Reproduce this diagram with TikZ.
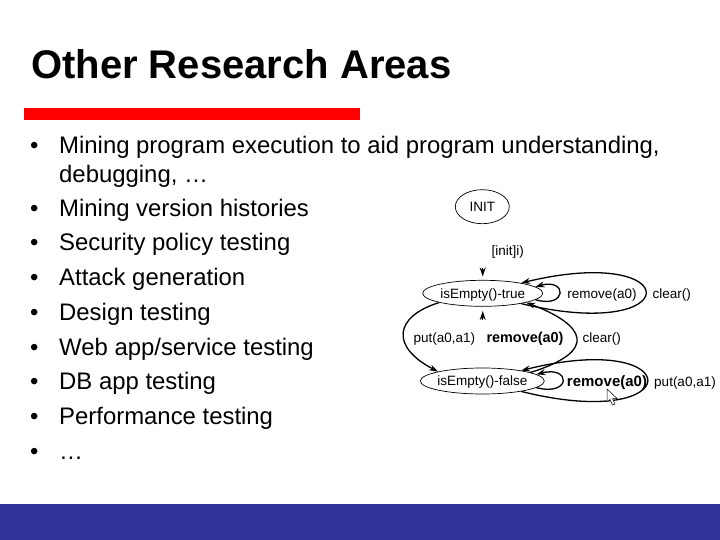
\documentclass[tikz,border=0pt]{standalone}
\usepackage{fontspec}
\setmainfont{Liberation Sans}
\usetikzlibrary{shapes.geometric, arrows.meta}
\newcommand{\statetext}[1]{\raisebox{-4.7pt}[0pt][0pt]{\makebox[0pt]{#1}}}
\definecolor{footerblue}{RGB}{51,51,153}

\begin{document}
\begin{tikzpicture}[x=1pt, y=-1pt,
every node/.style = {inner sep=0pt},
state/.style = {shape=ellipse, draw, line width=0.7pt, font=\fontsize{13.5}{13.5}\selectfont},
call/.style = {font=\fontsize{13.5}{13.5}\selectfont},
boldcall/.style = {font=\fontsize{14.4}{14.4}\selectfont\bfseries},
bullet/.style = {anchor=base west, font=\fontsize{23.9}{23.9}\selectfont},
trans/.style = {line width=1.3pt, -{Stealth[length=9pt,width=6pt]}}]
\useasboundingbox (0,0) rectangle (720,540);
\fill [footerblue] (0,504) rectangle (720,540);
\fill [red] (24,108) rectangle (360,120);
\node [anchor=base west, font=\fontsize{40}{40}\selectfont\bfseries] (title) at (31,79) {Other Research Areas};
\foreach \ypos/\itemtext in {154/{Mining program execution to aid program understanding,},
    216/{Mining version histories}, 251/{Security policy testing}, 285/{Attack generation},
    320/{Design testing}, 355/{Web app/service testing}, 389/{DB app testing},
    424/{Performance testing}, 459/{…}}
{
    \node [bullet] (dot\ypos) at (30,\ypos) {•};
    \node [bullet] (item\ypos) at (59,\ypos) {\itemtext};
}
\node [bullet] (item183) at (59,183) {debugging, …};

\node [state, minimum width=54pt, minimum height=34pt] (init) at (482.3,206.7) {\statetext{INIT}};
\node [state, minimum width=120pt, minimum height=26pt] (isTrue) at (482.7,293.3) {\statetext{isEmpty()-true}};
\node [state, minimum width=124pt, minimum height=26pt] (isFalse) at (482.3,381) {\statetext{isEmpty()-false}};

\node [call] (initCall) at (507.7,252) {[init]i)};
\node [call] (removeTrue) at (602,295.5) {remove(a0)};
\node [call] (clearTrue) at (671.7,295.5) {clear()};
\node [call] (putFalse) at (444.3,339) {put(a0,a1)};
\node [boldcall] (removeMid) at (525,339) {remove(a0)};
\node [call] (clearMid) at (601.7,339) {clear()};
\node [boldcall, font=\fontsize{15}{15}\selectfont\bfseries] (removeFalse) at (607,382.5) {remove(a0)};
\node [call] (putLoop) at (685,383) {put(a0,a1)};

\coordinate (initEnd) at (482.7,267.5);
\coordinate (midEnd) at (482.7,320);
\draw [trans, shorten >=3.5pt] (initEnd) -- (isTrue);
\draw [trans, shorten >=4.4pt] (midEnd) -- (isTrue);
\draw [trans] (isTrue.-7) .. controls +(32,9) and +(32,-9) .. (isTrue.7);
\draw [trans] (isTrue.-15) .. controls +(166,40) and +(166,-40) .. (isTrue.15);
\draw [trans] (isTrue.-168) .. controls +(-45,14) and +(-48,-25) .. (isFalse.168);
\draw [trans] (isFalse.10) .. controls +(70,-22) and +(58,22) .. (isTrue.-12);
\draw [trans] (isFalse.-7) .. controls +(35,9) and +(35,-9) .. (isFalse.7);
\draw [trans] (isFalse.-15) .. controls +(168,42) and +(168,-42) .. (isFalse.15);

% mouse pointer
\draw [fill=white, line width=0.5pt] (607,389) -- (607,402) -- (610,399.5) -- (612.5,405) -- (615,404) -- (612.5,398.5) -- (617,398.5) -- cycle;
\end{tikzpicture}
\end{document}
